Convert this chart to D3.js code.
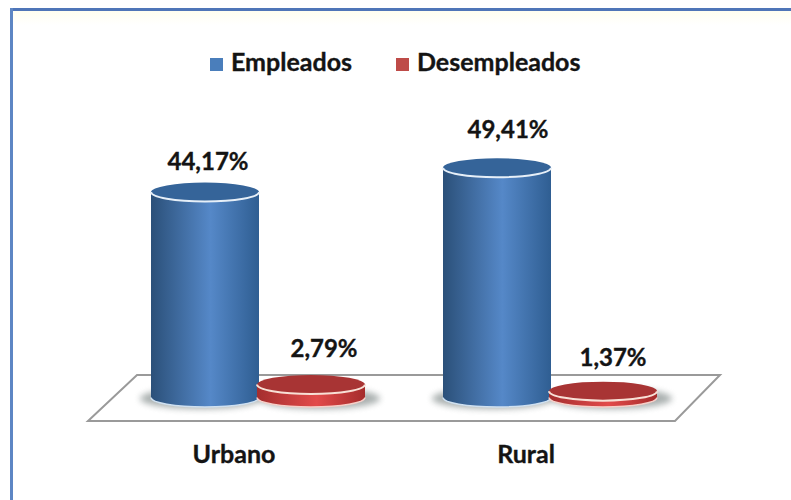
<!DOCTYPE html>
<html>
<head>
<meta charset="utf-8">
<script src="https://cdnjs.cloudflare.com/ajax/libs/d3/7.8.5/d3.min.js"></script>
<style>
html, body { margin: 0; padding: 0; background: #fff; }
svg { display: block; }
text { font-family: Lato, "Open Sans", sans-serif; font-weight: 700; fill: #141414; stroke: #141414; stroke-width: 0.35; }
</style>
</head>
<body>
<div class="chart"></div>
<script>
var categories = ["Urbano", "Rural"]
var series = ["Empleados", "Desempleados"]
var empleados = [44.17, 49.41]
var desempleados = [2.79, 1.37]
var valueLabels = [["44,17%", "49,41%"], ["2,79%", "1,37%"]]

var width = 791
var height = 500
var baseY = 397.5
var rx = 54
var ry = 9.5

var svg = d3.select(".chart").append("svg")
    .attr("width", width)
    .attr("height", height)

var defs = svg.append("defs")

function bodyGradient(id, edgeL, mid, edgeR) {
    var g = defs.append("linearGradient").attr("id", id)
    g.append("stop").attr("offset", "0%").attr("stop-color", edgeL)
    g.append("stop").attr("offset", "55%").attr("stop-color", mid)
    g.append("stop").attr("offset", "100%").attr("stop-color", edgeR)
}
bodyGradient("blueBody", "#2b5079", "#5588c8", "#2f5e92")
bodyGradient("redBody", "#a42e2e", "#e24b4b", "#a52c2c")

defs.append("filter").attr("id", "soft")
    .attr("x", "-20%").attr("y", "-50%").attr("width", "140%").attr("height", "200%")
    .append("feGaussianBlur").attr("stdDeviation", 3)

var pale = defs.append("linearGradient").attr("id", "pale")
    .attr("x1", 0).attr("x2", 0).attr("y1", 0).attr("y2", 1)
pale.append("stop").attr("offset", "0%").attr("stop-color", "#fffef0")
pale.append("stop").attr("offset", "100%").attr("stop-color", "#ffffff")

// frame, only the top and left sides show in the picture
svg.append("rect").attr("x", 12).attr("y", 11).attr("width", width - 12).attr("height", 14).attr("fill", "url(#pale)")
svg.append("rect").attr("x", 10).attr("y", 8).attr("width", width - 10).attr("height", 3).attr("fill", "#4f75b8")
svg.append("rect").attr("x", 10).attr("y", 8).attr("width", 3).attr("height", height - 8).attr("fill", "#5d86c4")

var x0 = d3.scaleBand().domain(categories).range([112, 696])
var x1 = d3.scaleBand().domain(series).range([-106, 106])
var y = d3.scaleLinear().domain([0, 50]).range([baseY, baseY - 232.5])

// platform
svg.append("path")
    .attr("d", d3.line()([[137, 375], [720, 375], [675, 421], [88, 421]]) + "Z")
    .attr("fill", "#fff")
    .attr("stroke", "#9a9a9a")
    .attr("stroke-width", 2)

// legend
var legendColors = ["#4a7ebb", "#be4b48"]
var legendX = [210, 396]
series.forEach(function(s, i) {
    svg.append("rect")
        .attr("x", legendX[i]).attr("y", 58)
        .attr("width", 13).attr("height", 13)
        .attr("fill", legendColors[i])
    svg.append("text")
        .attr("x", legendX[i] + 21).attr("y", 71)
        .attr("font-size", 25)
        .text(s)
})

// shadows go in their own layer so none of them lands on a cylinder
var shadows = svg.append("g")

// cylinder: body path with bottom arc, then the top ellipse and light rim
function drawCylinder(cx, topY, kind) {
    var blue = kind == 0
    var g = svg.append("g")
    shadows.append("ellipse")
        .attr("cx", cx + (blue ? -4 : 8)).attr("cy", baseY + 1)
        .attr("rx", rx + 7).attr("ry", ry + 1)
        .attr("fill", "#7d8685")
        .attr("opacity", 0.65)
        .attr("filter", "url(#soft)")
    g.append("path")
        .attr("d", "M" + (cx - rx) + "," + topY +
            "L" + (cx - rx) + "," + baseY +
            "A" + rx + "," + ry + " 0 0 0 " + (cx + rx) + "," + baseY +
            "L" + (cx + rx) + "," + topY + "Z")
        .attr("fill", blue ? "url(#blueBody)" : "url(#redBody)")
    g.append("path")
        .attr("d", "M" + (cx - rx) + "," + baseY +
            "A" + rx + "," + ry + " 0 0 0 " + (cx + rx) + "," + baseY)
        .attr("fill", "none")
        .attr("stroke", blue ? "#cfe0f0" : "#f6cfc8")
        .attr("stroke-width", 1.5)
    g.append("ellipse")
        .attr("cx", cx).attr("cy", topY)
        .attr("rx", rx).attr("ry", ry)
        .attr("fill", blue ? "#356499" : "#a83434")
    g.append("path")
        .attr("d", "M" + (cx - rx) + "," + topY +
            "A" + rx + "," + ry + " 0 0 0 " + (cx + rx) + "," + topY)
        .attr("fill", "none")
        .attr("stroke", blue ? "#e6eff8" : "#f8e0d6")
        .attr("stroke-width", 2)
}

// label offsets from the top of each cylinder, [series][category]
var labelDx = [[3, 11], [13, 10]]
var labelDy = [[22, 30], [28, 25]]

var values = [empleados, desempleados]
categories.forEach(function(c, ci) {
    // the blue one goes first, the red disc sits over its edge
    values.forEach(function(vals, si) {
        var cx = x0(c) + x0.bandwidth() / 2 + x1(series[si]) + x1.bandwidth() / 2
        var topY = y(vals[ci])
        drawCylinder(cx, topY, si)
        svg.append("text")
            .attr("x", cx + labelDx[si][ci])
            .attr("y", topY - labelDy[si][ci])
            .attr("text-anchor", "middle")
            .attr("font-size", 24)
            .text(valueLabels[si][ci])
    })
    svg.append("text")
        .attr("x", x0(c) + x0.bandwidth() / 2 - 24)
        .attr("y", 463)
        .attr("text-anchor", "middle")
        .attr("font-size", 25)
        .text(c)
})
</script>
</body>
</html>
